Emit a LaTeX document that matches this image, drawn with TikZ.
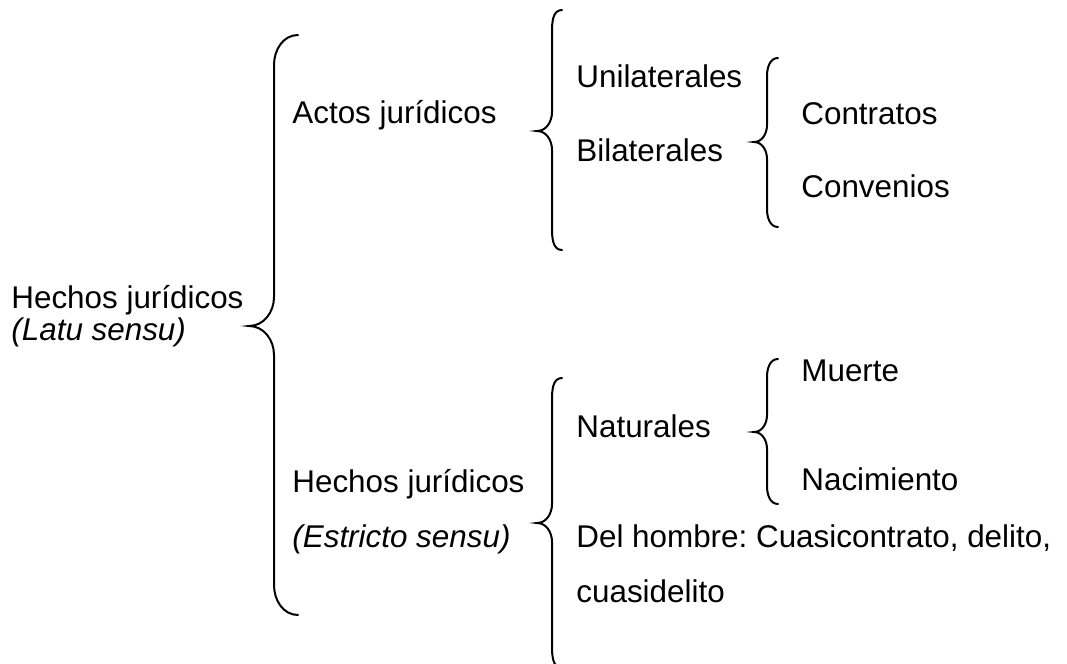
\documentclass[tikz,border=0pt]{standalone}
\usepackage{fontspec}
\setmainfont{Liberation Sans}
\begin{document}
\frenchspacing
\begin{tikzpicture}[x=0.5pt, y=-0.5pt,
    texto/.style={anchor=base west, inner sep=0pt, font=\fontsize{15.7}{18}\selectfont},
    llave/.style={line width=1pt, line cap=round}]
    \useasboundingbox (0,0) rectangle (1067,664);

    % Hechos juridicos (Latu sensu)
    \node[texto] (hlato) at (11,308) {Hechos jurídicos};
    \node[texto] (latu) at (11,340) {\itshape (Latu sensu)};
    \draw[llave] (298,35) to[out=180,in=90] (274,65) -- (274,297) to[out=-90,in=0] (249,326)
        to[out=0,in=90] (274,355) -- (274,585) to[out=-90,in=180] (298,615);

    % Actos juridicos
    \node[texto] (actos) at (292,123) {Actos jurídicos};
    \draw[llave] (562,10) to[out=180,in=90] (552,32) -- (552,112) to[out=-90,in=0] (537,131)
        to[out=0,in=90] (552,150) -- (552,228) to[out=-90,in=180] (562,250);
    \node[texto] (unil) at (576,87) {Unilaterales};
    \node[texto] (bil) at (576,161) {Bilaterales};
    \draw[llave] (778,58) to[out=180,in=90] (767,76) -- (767,125) to[out=-90,in=0] (754,142)
        to[out=0,in=90] (767,159) -- (767,209) to[out=-90,in=180] (778,227);
    \node[texto] (contratos) at (801,124) {Contratos};
    \node[texto] (convenios) at (801,197) {Convenios};

    % Hechos juridicos (Estricto sensu)
    \node[texto] (hestr) at (292,492) {Hechos jurídicos};
    \node[texto] (estricto) at (292,547) {\itshape (Estricto sensu)};
    \draw[llave] (562,378) to[out=180,in=90] (552,400) -- (552,504) to[out=-90,in=0] (537,523)
        to[out=0,in=90] (552,542) -- (552,646) to[out=-90,in=180] (562,668);
    \node[texto] (naturales) at (576,437) {Naturales};
    \draw[llave] (778,359) to[out=180,in=90] (767,377) -- (767,415) to[out=-90,in=0] (754,432)
        to[out=0,in=90] (767,449) -- (767,486) to[out=-90,in=180] (778,504);
    \node[texto] (muerte) at (801,381) {Muerte};
    \node[texto] (nacimiento) at (801,490) {Nacimiento};
    \node[texto] (hombre) at (576,547) {Del hombre: Cuasicontrato, delito,};
    \node[texto] (cuasi) at (576,602) {cuasidelito};
\end{tikzpicture}
\end{document}
